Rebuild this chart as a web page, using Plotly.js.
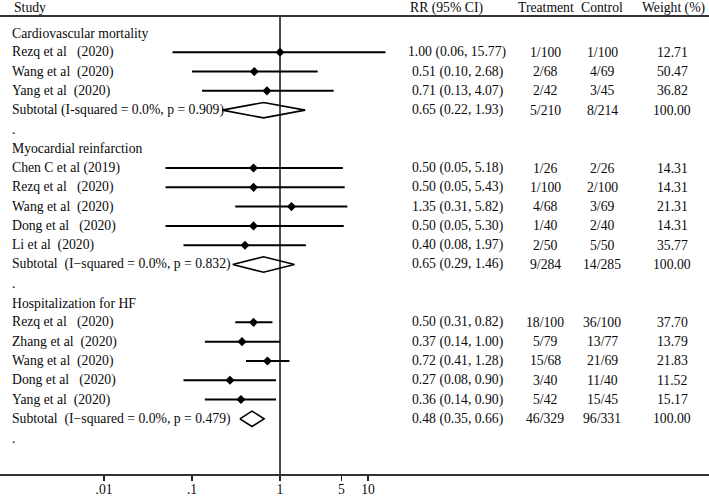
<!DOCTYPE html>
<html>
<head>
<meta charset="utf-8">
<script src="https://cdn.plot.ly/plotly-3.0.1.min.js"></script>
<style>html,body{margin:0;padding:0;background:#fff;}#chart{width:709px;height:498px;}</style>
</head>
<body>
<div id="chart"></div>
<script>
// ---- data ----
const groups = ["Cardiovascular mortality", "Myocardial reinfarction", "Hospitalization for HF"];
const groupSizes = [3, 5, 5];
const studies = [
  "Rezq et al   (2020)", "Wang et al  (2020)", "Yang et al  (2020)",
  "Chen C et al (2019)", "Rezq et al   (2020)", "Wang et al  (2020)", "Dong et al   (2020)", "Li et al  (2020)",
  "Rezq et al   (2020)", "Zhang et al  (2020)", "Wang et al  (2020)", "Dong et al   (2020)", "Yang et al  (2020)"
];
const rr     = [1.00, 0.51, 0.71,  0.50, 0.50, 1.35, 0.50, 0.40,  0.50, 0.37, 0.72, 0.27, 0.36];
const rrLow  = [0.06, 0.10, 0.13,  0.05, 0.05, 0.31, 0.05, 0.08,  0.31, 0.14, 0.41, 0.08, 0.14];
const rrHigh = [15.77, 2.68, 4.07, 5.18, 5.43, 5.82, 5.30, 1.97,  0.82, 1.00, 1.28, 0.90, 0.90];
const treatment = ["1/100", "2/68", "2/42",  "1/26", "1/100", "4/68", "1/40", "2/50",  "18/100", "5/79", "15/68", "3/40", "5/42"];
const control   = ["1/100", "4/69", "3/45",  "2/26", "2/100", "3/69", "2/40", "5/50",  "36/100", "13/77", "21/69", "11/40", "15/45"];
const weight    = [12.71, 50.47, 36.82,  14.31, 14.31, 21.31, 14.31, 35.77,  37.70, 13.79, 21.83, 11.52, 15.17];

const subLabels = [
  "Subtotal (I-squared = 0.0%, p = 0.909)",
  "Subtotal  (I\u2212squared = 0.0%, p = 0.832)",
  "Subtotal  (I\u2212squared = 0.0%, p = 0.479)"
];
const subRR     = [0.65, 0.65, 0.48];
const subLow    = [0.22, 0.29, 0.35];
const subHigh   = [1.93, 1.46, 0.66];
const subTreat  = ["5/210", "9/284", "46/329"];
const subCtrl   = ["8/214", "14/285", "96/331"];
const subWeight = [100.00, 100.00, 100.00];

const headers = ["Study", "RR (95% CI)", "Treatment", "Control", "Weight (%)"];
const tickVals = [0.01, 0.1, 1, 5, 10];
const tickText = [".01", ".1", "1", "5", "10"];

// ---- layout helpers ----
const W = 709, H = 498;
const FONT = "Liberation Serif, Times New Roman, serif";
const TXT = "#0a0a0a";
const FS = 13.7;
const nbsp = s => s.replace(/ /g, "\u00a0");
const px = p => p / W;
const colRR = px(457), colT = px(545), colC = px(602), colW = px(672), colL = px(10);
const halfH = 0.40;

const ann = [];
function addText(x, y, text, anchor, yref) {
  ann.push({xref: "paper", yref: yref || "y", x: x, y: y, text: nbsp(text), showarrow: false,
    xanchor: anchor || "center", yanchor: "middle", font: {family: FONT, size: FS, color: TXT}});
}

// header (above the plot area, in paper coordinates)
const hy = (474 - 8) / 458;
addText(px(12), hy, headers[0], "left", "paper");
addText(px(446), hy, headers[1], "center", "paper");
addText(px(546), hy, headers[2], "center", "paper");
addText(px(602), hy, headers[3], "center", "paper");
addText(px(673), hy, headers[4], "center", "paper");

const ciX = [], ciY = [], ptX = [], ptY = [], dX = [], dY = [];
let row = 0, si = 0;
groups.forEach((g, gi) => {
  addText(colL, row, g, "left");
  row++;
  for (let j = 0; j < groupSizes[gi]; j++, si++, row++) {
    addText(colL, row, studies[si], "left");
    addText(colRR, row, rr[si].toFixed(2) + " (" + rrLow[si].toFixed(2) + ", " + rrHigh[si].toFixed(2) + ")");
    addText(colT, row, treatment[si]);
    addText(colC, row, control[si]);
    addText(colW, row, weight[si].toFixed(2));
    ciX.push(rrLow[si], rrHigh[si], null); ciY.push(row, row, null);
    ptX.push(rr[si]); ptY.push(row);
  }
  addText(colL, row, subLabels[gi], "left");
  addText(colRR, row, subRR[gi].toFixed(2) + " (" + subLow[gi].toFixed(2) + ", " + subHigh[gi].toFixed(2) + ")");
  addText(colT, row, subTreat[gi]);
  addText(colC, row, subCtrl[gi]);
  addText(colW, row, subWeight[gi].toFixed(2));
  dX.push(subLow[gi], subRR[gi], subHigh[gi], subRR[gi], subLow[gi], null);
  dY.push(row, row - halfH, row, row + halfH, row, null);
  row++;
  addText(colL, row, ".", "left");
  row++;
});

const yTop = -0.881, yBot = 22.86;

const traces = [
  {x: [1, 1], y: [yTop, yBot], mode: "lines", line: {color: "#111", width: 1.5}, hoverinfo: "skip", cliponaxis: false},
  {x: ciX, y: ciY, mode: "lines", line: {color: "#000", width: 2}, hoverinfo: "skip", connectgaps: false},
  {x: ptX, y: ptY, mode: "markers", marker: {symbol: "diamond", size: 7, color: "#000"}, hoverinfo: "skip"},
  {x: dX, y: dY, mode: "lines", line: {color: "#000", width: 1.6}, hoverinfo: "skip", connectgaps: false}
];

const layout = {
  width: W, height: H,
  margin: {l: 0, r: 0, t: 16, b: 24, pad: 0},
  paper_bgcolor: "#fff", plot_bgcolor: "#fff",
  showlegend: false,
  font: {family: FONT, size: FS, color: TXT},
  xaxis: {
    type: "log", range: [-3.182, 4.875], fixedrange: true,
    tickvals: tickVals, ticktext: tickText,
    ticks: "outside", ticklen: 5, tickwidth: 1.2, tickcolor: "#222",
    ticklabelstandoff: -3,
    showline: true, linecolor: "#333", linewidth: 2,
    showgrid: false, zeroline: false,
    tickfont: {family: FONT, size: FS, color: TXT}
  },
  yaxis: {range: [yBot, yTop], visible: false, fixedrange: true, showgrid: false, zeroline: false},
  shapes: [
    {type: "line", xref: "paper", yref: "paper", x0: 0, x1: 1, y0: 1, y1: 1, line: {color: "#333", width: 2}}
  ],
  annotations: ann
};

Plotly.newPlot("chart", traces, layout, {staticPlot: true, displayModeBar: false});
</script>
</body>
</html>
